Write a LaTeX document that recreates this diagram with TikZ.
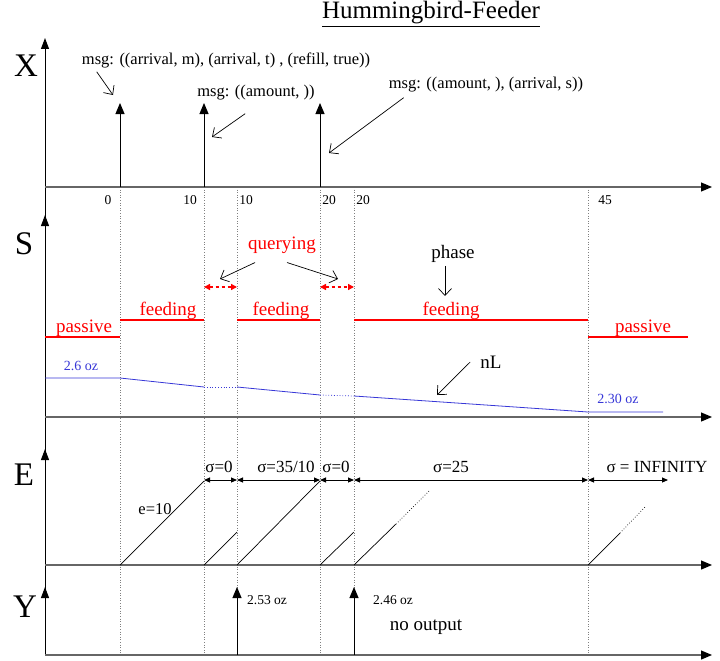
\documentclass[tikz,border=0pt]{standalone}
\usepackage{fontspec}
\setmainfont{Liberation Serif}
\usetikzlibrary{arrows.meta}
\newcommand{\fsz}[1]{\fontsize{#1}{#1}\selectfont}
\definecolor{lvl}{RGB}{55,55,215}

\begin{document}
\begin{tikzpicture}[x=1pt,y=-1pt,
  base/.style={black!60,line width=1.2pt,-{Triangle[length=11pt,width=9pt,color=black]}},
  vaxis/.style={line width=1pt,-{Triangle[length=11pt,width=8pt]}},
  impulse/.style={line width=1pt,-{Triangle[length=11pt,width=9pt]}},
  tick/.style={black!50,dotted,line width=.6pt},
  note/.style={line width=.7pt,-{Straight Barb[length=7pt,width=13pt]}},
  phaseln/.style={red,line width=1.4pt},
  level/.style={lvl,line width=.8pt},
  span/.style={line width=.9pt,{Triangle[length=6pt,width=5pt]}-{Triangle[length=6pt,width=5pt]}},
  qspan/.style={red,dashed,line width=1.4pt,{Triangle[length=6pt,width=6pt]}-{Triangle[length=6pt,width=6pt]}},
  ramp/.style={line width=.7pt},
  txt/.style={inner sep=0pt}]
  \useasboundingbox (0,0) rectangle (720,661);

  % time marks
  \foreach \t in {120,204,237,320,354,588}
    \draw[tick] (\t,187) -- (\t,655);

  % axes
  \draw[line width=1pt] (45,655) -- (45,187);
  \draw[vaxis] (45,187) -- (45,38);
  \draw[vaxis] (45,417) -- (45,215);
  \draw[vaxis] (45,565) -- (45,449);
  \draw[vaxis] (45,655) -- (45,587);
  \draw[base] (45,187) -- (712,187);
  \draw[base] (45,417) -- (712,417);
  \draw[base] (45,565) -- (712,565);
  \draw[base] (45,655) -- (712,655);

  \node[txt,font=\fsz{25}] (title) at (431,14) {\underline{Hummingbird-Feeder}};
  \node[txt,font=\fsz{33}] (lX) at (26,66) {X};
  \node[txt,font=\fsz{33}] (lS) at (24,244) {S};
  \node[txt,font=\fsz{33}] (lE) at (24,475) {E};
  \node[txt,font=\fsz{33}] (lY) at (25,607) {Y};

  % inputs X
  \draw[impulse] (120,187) -- (120,103);
  \draw[impulse] (204,187) -- (204,103);
  \draw[impulse] (320,187) -- (320,103);
  \node[txt,font=\fsz{16.5}] (msgA) at (226,60) {msg: ((arrival, m), (arrival, t) , (refill, true))};
  \node[txt,font=\fsz{16.5}] (msgB) at (256,93) {msg: ((amount, ))};
  \node[txt,font=\fsz{16.5}] (msgC) at (486,85) {msg: ((amount, ), (arrival, s))};
  \draw[note] ([shift={(15,4)}]msgA.south west) -- (113,95);
  \draw[note] ([shift={(48,13)}]msgB.south west) -- (212,137);
  \draw[note] ([shift={(15,5)}]msgC.south west) -- (329,153);

  \foreach \x/\v in {108/0,190/10,246/10,329/20,363/20,605/45}
    \node[txt,font=\fsz{13.5}] (t\x) at (\x,200) {\v};

  % state S
  \draw[phaseln] (45,337) -- (120,337);
  \draw[phaseln] (120,320) -- (204,320);
  \draw[phaseln] (237,320) -- (320,320);
  \draw[phaseln] (354,320) -- (588,320);
  \draw[phaseln] (588,337) -- (688,337);
  \node[txt,red,font=\fsz{19}] (pas1) at (84,328) {passive};
  \node[txt,red,font=\fsz{19}] (fed1) at (168,311) {feeding};
  \node[txt,red,font=\fsz{19}] (fed2) at (281,311) {feeding};
  \node[txt,red,font=\fsz{19}] (fed3) at (451,311) {feeding};
  \node[txt,red,font=\fsz{19}] (pas2) at (643,328) {passive};
  \node[txt,red,font=\fsz{19}] (qry) at (282,245) {querying};
  \draw[qspan] (204,287) -- (237,287);
  \draw[qspan] (320,287) -- (354,287);
  \draw[note] ([shift={(7,9)}]qry.south west) -- (220,279);
  \draw[note] ([shift={(5,9)}]qry.south) -- (338,279);
  \node[txt,font=\fsz{19}] (phs) at (453,254) {phase};
  \draw[note] ([shift={(-8,3)}]phs.south) -- (445,296);

  \draw[level] (45,378) -- (120,378) -- (204,387);
  \draw[level,dotted] (204,387) -- (237,387);
  \draw[level] (237,387) -- (320,395);
  \draw[level,dotted] (320,395) -- (354,396);
  \draw[level] (354,396) -- (588,412) -- (663,412);
  \node[txt,lvl,font=\fsz{14}] (amt1) at (81,366) {2.6 oz};
  \node[txt,lvl,font=\fsz{14}] (amt2) at (618,399) {2.30 oz};
  \node[txt,font=\fsz{19}] (nL) at (491,362) {nL};
  \draw[note] ([shift={(-10,0)}]nL.west) -- (437,395);

  % elapsed E
  \draw[ramp] (120,565) -- (204,481);
  \draw[ramp] (204,565) -- (237,532);
  \draw[ramp] (237,565) -- (320,481);
  \draw[ramp] (320,565) -- (354,532);
  \draw[ramp] (354,565) -- (396,524);
  \draw[ramp,dotted] (396,524) -- (429,491);
  \draw[ramp] (588,565) -- (620,533);
  \draw[ramp,dotted] (620,533) -- (646,506);
  \node[txt,font=\fsz{16.5}] (e10) at (155,509) {e=10};
  \draw[span] (204,480) -- (237,480);
  \draw[span] (237,480) -- (320,480);
  \draw[span] (320,480) -- (354,480);
  \draw[span] (354,480) -- (588,480);
  \draw[span] (588,480) -- (668,480);
  \node[txt,font=\fsz{17}] (sg1) at (219,467) {σ=0};
  \node[txt,font=\fsz{17}] (sg2) at (286,467) {σ=35/10};
  \node[txt,font=\fsz{17}] (sg3) at (336,467) {σ=0};
  \node[txt,font=\fsz{17}] (sg4) at (451,467) {σ=25};
  \node[txt,font=\fsz{17}] (sg5) at (657,467) {σ = INFINITY};

  % outputs Y
  \draw[impulse] (237,655) -- (237,587);
  \draw[impulse] (354,655) -- (354,587);
  \node[txt,font=\fsz{13.5}] (out1) at (267,600) {2.53 oz};
  \node[txt,font=\fsz{13.5}] (out2) at (393,600) {2.46 oz};
  \node[txt,font=\fsz{19}] (none) at (426,627) {no output};
\end{tikzpicture}
\end{document}
